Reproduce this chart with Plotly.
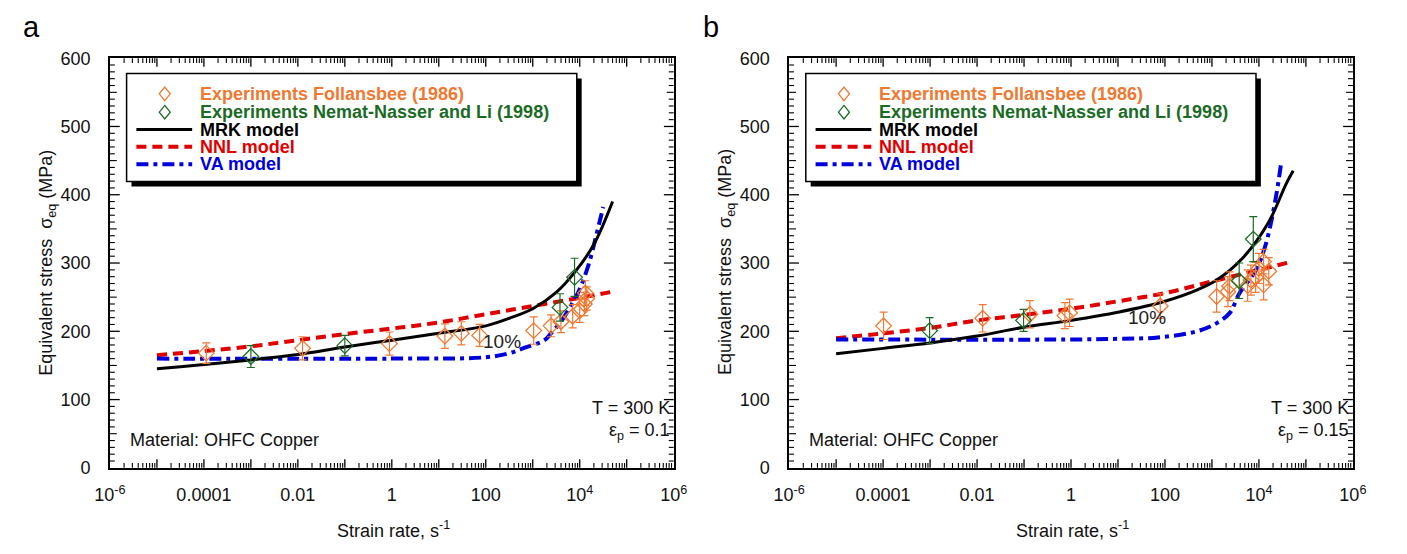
import math
import plotly.graph_objects as go

W, H = 1407, 554
FONT = "Liberation Sans, Arial, sans-serif"

# ---------------- data (log10 of strain rate, stress in MPa) ----------------
# Panel a (eps_p = 0.1)
mrk_a_lr = [-5.0, -4.5, -3.0, -2.0, -1.0, 0.0, 1.0, 2.0, 2.5, 3.0, 3.5, 3.9, 4.3, 4.7]
mrk_a = [145, 148, 158, 166, 177, 187, 197, 208, 219, 233, 257, 287, 327, 390]
nnl_a_lr = [-5.0, -4.0, -3.0, -2.0, -1.0, 0.0, 1.0, 2.0, 3.0, 4.0, 4.7]
nnl_a = [165, 171, 178, 187, 196, 204, 213, 225, 237, 249, 258]
va_a_lr = [-5.0, 0.0, 2.0, 2.5, 2.83, 3.25, 3.4, 3.6, 3.8, 4.0, 4.2, 4.35, 4.5]
va_a = [160, 160, 162, 168, 176, 187, 198, 214, 236, 262, 300, 340, 382]
fol_a_lr = [-3.95, -1.9, -0.05, 1.13, 1.48, 1.87, 3.02, 3.39, 3.60, 3.85, 4.00, 4.10, 4.15, 4.12]
fol_a = [168, 175, 182, 193, 197, 194, 201, 208, 214, 222, 230, 240, 248, 256]
fol_a_err = [15, 17, 17, 18, 17, 16, 20, 16, 16, 17, 17, 17, 17, 18]
nn_a_lr = [-3.0, -1.0, 3.58, 3.89]
nn_a = [163, 179, 235, 279]
nn_a_err = [16, 15, 20, 28]

# Panel b (eps_p = 0.15)
mrk_b_lr = [-5.0, -4.0, -3.0, -2.0, -1.0, 0.0, 1.0, 2.0, 2.7, 3.1, 3.65, 4.2, 4.58, 4.73]
mrk_b = [167, 175, 183, 193, 206, 216, 228, 244, 261, 275, 307, 359, 416, 435]
nnl_b_lr = [-5.0, -4.0, -3.0, -2.0, -1.0, 0.0, 1.0, 2.0, 3.0, 4.0, 4.7]
nnl_b = [190, 197, 205, 216, 224, 233, 244, 256, 273, 290, 302]
va_b_lr = [-5.0, 0.0, 1.0, 1.85, 2.68, 3.1, 3.38, 3.58, 3.93, 4.14, 4.35, 4.48]
va_b = [188, 188, 189, 191, 200, 212, 227, 255, 289, 326, 392, 450]
fol_b_lr = [-3.99, -1.88, -0.875, -0.13, -0.03, 1.9, 3.1, 3.34, 3.375, 3.76, 3.83, 3.93, 4.0, 4.1, 4.21, 4.1]
fol_b = [208, 219, 225, 223, 227, 237, 251, 258, 266, 267, 275, 279, 292, 302, 288, 268]
fol_b_err = [20, 20, 20, 19, 20, 18, 23, 22, 21, 23, 22, 22, 22, 18, 20, 22]
nn_b_lr = [-3.01, -1.01, 3.58, 3.88]
nn_b = [201, 216, 274, 335]
nn_b_err = [19, 16, 26, 33]

x_label_exp = [-6, -4, -2, 0, 2, 4, 6]
x_label_text = ["10<sup>-6</sup>", "0.0001", "0.01", "1", "100", "10<sup>4</sup>", "10<sup>6</sup>"]
y_ticks = [0, 100, 200, 300, 400, 500, 600]

# ---------------- styles ----------------
ORANGE = "#F07830"
GREEN = "#1A6B24"
RED = "#E00000"
BLUE = "#0000DD"
BLACK = "#000000"
DASH_RED = "10px,6px"
DASH_BLUE = "12px,5px,4px,5px"


def rates(lr):
    return [10 ** v for v in lr]


def px(x):
    return x / W


def py(y):
    return 1 - y / H


fig = go.Figure()

panels = [
    dict(xa="x", ya="y", mrk=(mrk_a_lr, mrk_a), nnl=(nnl_a_lr, nnl_a), va=(va_a_lr, va_a),
         fol=(fol_a_lr, fol_a, fol_a_err), nn=(nn_a_lr, nn_a, nn_a_err)),
    dict(xa="x2", ya="y2", mrk=(mrk_b_lr, mrk_b), nnl=(nnl_b_lr, nnl_b), va=(va_b_lr, va_b),
         fol=(fol_b_lr, fol_b, fol_b_err), nn=(nn_b_lr, nn_b, nn_b_err)),
]

for p in panels:
    fig.add_trace(go.Scatter(x=rates(p["nnl"][0]), y=p["nnl"][1], mode="lines",
                             line=dict(color=RED, width=4, dash=DASH_RED, shape="spline"),
                             xaxis=p["xa"], yaxis=p["ya"], showlegend=False))
    fig.add_trace(go.Scatter(x=rates(p["va"][0]), y=p["va"][1], mode="lines",
                             line=dict(color=BLUE, width=4, dash=DASH_BLUE, shape="spline"),
                             xaxis=p["xa"], yaxis=p["ya"], showlegend=False))
    fig.add_trace(go.Scatter(x=rates(p["mrk"][0]), y=p["mrk"][1], mode="lines",
                             line=dict(color=BLACK, width=3, shape="spline"),
                             xaxis=p["xa"], yaxis=p["ya"], showlegend=False))
    fig.add_trace(go.Scatter(x=rates(p["fol"][0]), y=p["fol"][1], mode="markers",
                             marker=dict(symbol="diamond-open", size=12, color=ORANGE,
                                         line=dict(width=1.3, color=ORANGE)),
                             error_y=dict(type="data", array=p["fol"][2], color=ORANGE,
                                          thickness=1.2, width=4),
                             xaxis=p["xa"], yaxis=p["ya"], showlegend=False))
    fig.add_trace(go.Scatter(x=rates(p["nn"][0]), y=p["nn"][1], mode="markers",
                             marker=dict(symbol="diamond-open", size=12, color=GREEN,
                                         line=dict(width=1.3, color=GREEN)),
                             error_y=dict(type="data", array=p["nn"][2], color=GREEN,
                                          thickness=1.2, width=4),
                             xaxis=p["xa"], yaxis=p["ya"], showlegend=False))

PLOT_TOP, PLOT_BOT = 50, 475
x_domains = [(96, 672), (790, 1366)]

layout_axes = {}
for i, (x0, x1) in enumerate(x_domains):
    sfx = "" if i == 0 else "2"
    layout_axes["xaxis" + sfx] = dict(
        type="log", range=[-6, 6], domain=[px(x0), px(x1)], anchor="y" + sfx,
        showline=True, linecolor=BLACK, linewidth=1.6, mirror=True,
        ticks="", showgrid=False, zeroline=False,
        tickfont=dict(family=FONT, size=18, color="#111"),
        tickmode="array", tickvals=[10 ** e for e in x_label_exp], ticktext=x_label_text,
        ticklabelstandoff=10)
    layout_axes["yaxis" + sfx] = dict(
        range=[0, 600], domain=[py(PLOT_BOT), py(PLOT_TOP)], anchor="x" + sfx,
        showline=True, linecolor=BLACK, linewidth=1.6, mirror=True,
        ticks="", showgrid=False, zeroline=False,
        tickfont=dict(family=FONT, size=18, color="#111"),
        tickmode="array", tickvals=y_ticks, ticklabelstandoff=14)

shapes = []
annotations = []


def ann(x, y, text, size=19, color="#111", xanchor="center", yanchor="middle",
        bold=False, textangle=0):
    if bold:
        text = "<b>" + text + "</b>"
    annotations.append(dict(x=px(x), y=py(y), xref="paper", yref="paper", text=text,
                            showarrow=False, xanchor=xanchor, yanchor=yanchor,
                            textangle=textangle, borderpad=0,
                            font=dict(family=FONT, size=size, color=color)))


def diamond_path(cx, cy, r):
    return (f"M {px(cx)} {py(cy - r)} L {px(cx + r * 0.8)} {py(cy)} "
            f"L {px(cx)} {py(cy + r)} L {px(cx - r * 0.8)} {py(cy)} Z")


def tick_line(a, b, c, d, w):
    shapes.append(dict(type="line", xref="paper", yref="paper",
                       x0=px(a), y0=py(b), x1=px(c), y1=py(d),
                       line=dict(color=BLACK, width=w), layer="above"))


panel_info = [("a", "0.1"), ("b", "0.15")]
for i, (x0, x1) in enumerate(x_domains):
    off = x0 - 96
    # ---- axis ticks (inside, on all four sides) ----
    dec = (x1 - x0) / 12.0
    for k in range(-6, 7):
        xx = x0 + (k + 6) * dec
        if -6 < k < 6:
            tick_line(xx, PLOT_BOT, xx, PLOT_BOT - 9, 1.3)
            tick_line(xx, PLOT_TOP, xx, PLOT_TOP + 9, 1.3)
        if k < 6:
            for m in range(2, 10):
                xm = x0 + (k + 6 + math.log10(m)) * dec
                tick_line(xm, PLOT_BOT, xm, PLOT_BOT - 5, 1.1)
                tick_line(xm, PLOT_TOP, xm, PLOT_TOP + 5, 1.1)
    ys = (PLOT_BOT - PLOT_TOP) / 600.0
    for v in range(10, 600, 10):
        yy = PLOT_BOT - v * ys
        L = 10 if v % 100 == 0 else (7 if v % 50 == 0 else 5)
        w = 1.3 if L == 10 else 1.1
        tick_line(x0, yy, x0 + L, yy, w)
        tick_line(x1, yy, x1 - L, yy, w)

    # ---- legend box with shadow ----
    lx0, ly0, lx1, ly1 = 113 + off, 66, 573 + off, 178
    shapes.append(dict(type="rect", xref="paper", yref="paper", x0=px(lx0 + 5), x1=px(lx1 + 5),
                       y0=py(ly1 + 5), y1=py(ly0 + 5), fillcolor=BLACK,
                       line=dict(width=0), layer="above"))
    shapes.append(dict(type="rect", xref="paper", yref="paper", x0=px(lx0), x1=px(lx1),
                       y0=py(ly1), y1=py(ly0), fillcolor="white",
                       line=dict(color=BLACK, width=1.5), layer="above"))
    rows = [87, 106, 124, 142, 160]
    shapes.append(dict(type="path", xref="paper", yref="paper",
                       path=diamond_path(152 + off, rows[0], 7),
                       line=dict(color=ORANGE, width=1.3), layer="above"))
    shapes.append(dict(type="path", xref="paper", yref="paper",
                       path=diamond_path(152 + off, rows[1], 7),
                       line=dict(color=GREEN, width=1.3), layer="above"))
    for r, col, wdt, dsh in [(rows[2], BLACK, 3, "solid"), (rows[3], RED, 4, DASH_RED),
                             (rows[4], BLUE, 4, DASH_BLUE)]:
        shapes.append(dict(type="line", xref="paper", yref="paper", x0=px(123 + off),
                           x1=px(180 + off), y0=py(r), y1=py(r),
                           line=dict(color=col, width=wdt, dash=dsh), layer="above"))
    labels = [("Experiments Follansbee (1986)", ORANGE),
              ("Experiments Nemat-Nasser and Li (1998)", GREEN),
              ("MRK model", BLACK), ("NNL model", RED), ("VA model", BLUE)]
    for r, (t, c) in zip(rows, labels):
        ann(187 + off, r, t, size=18, color=c, xanchor="left", bold=True)

    ann(x1 - 3, 413, "T = 300 K", size=18, xanchor="right")
    ann(x1 - 3, 437, "ε<sub>p</sub> = " + panel_info[i][1], size=18, xanchor="right")
    ann(115 + off, 446, "Material: OHFC Copper", size=18, xanchor="left")
    ann(16 + off, 18, panel_info[i][0], size=29, color=BLACK)
    ann(x0 - 64, 262, "Equivalent stress  σ<sub>eq</sub> (MPa)", size=18, textangle=-90)
    ann((x0 + x1) / 2 + 2, 539, "Strain rate, s<sup>-1</sup>", size=18)

ann(497, 344, "10%", size=19, color="#222")
ann(1156, 319, "10%", size=19, color="#222")

fig.update_layout(width=W, height=H, autosize=False,
                  margin=dict(l=0, r=0, t=0, b=0),
                  paper_bgcolor="white", plot_bgcolor="white",
                  showlegend=False, shapes=shapes, annotations=annotations,
                  **layout_axes)

fig.write_html("out.html", config={"displayModeBar": False},
               post_script="document.body.style.margin='0px';document.body.style.padding='0px';")
